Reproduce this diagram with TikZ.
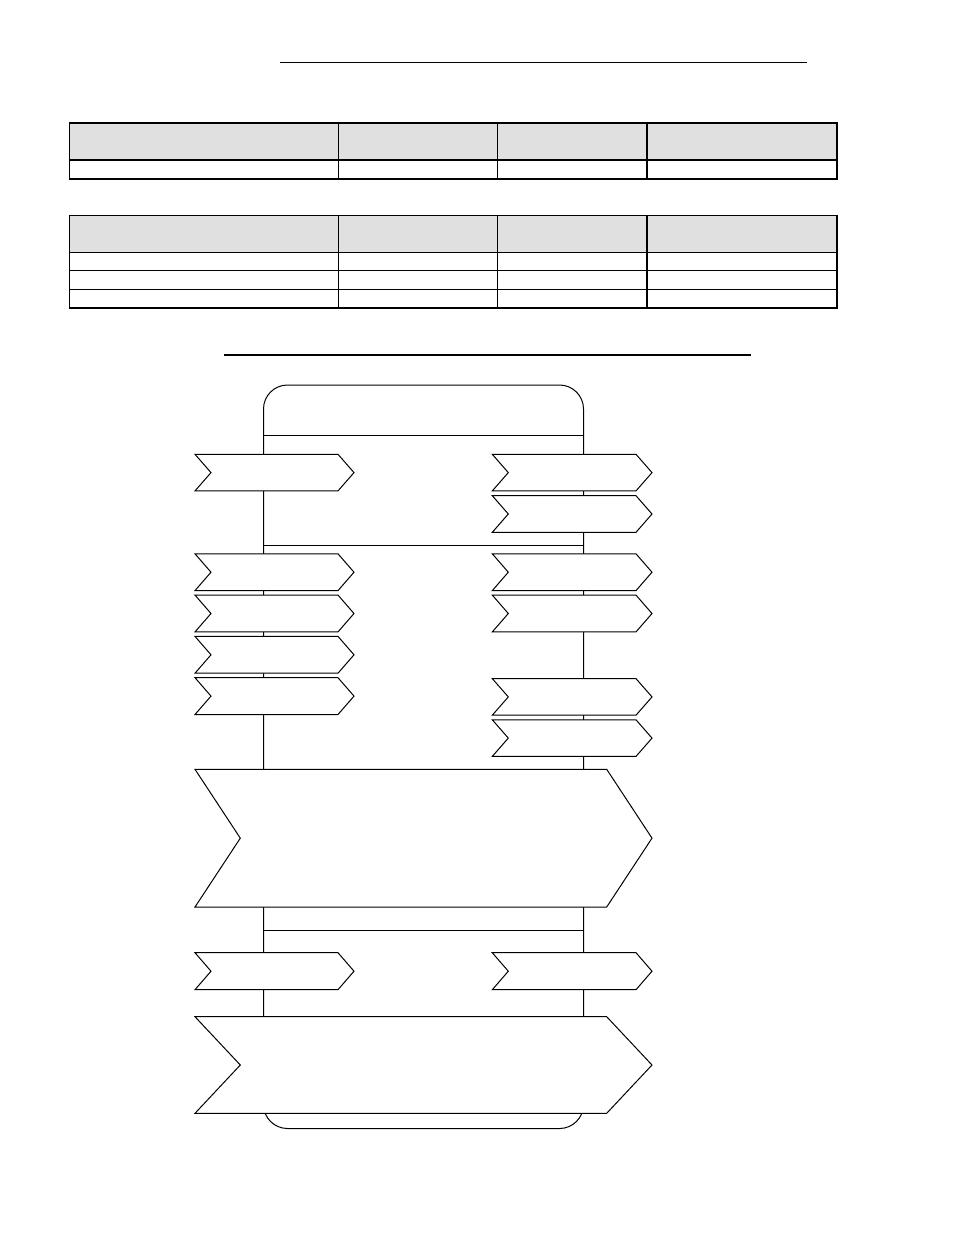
\documentclass[tikz,border=0pt]{standalone}
\usepackage{tikz}
\definecolor{c0}{HTML}{E0E0E0}
\definecolor{c1}{HTML}{000000}

\begin{document}
\begin{tikzpicture}[x=1pt,y=-1pt]

\useasboundingbox (0,0) rectangle (954,1235);

\newcommand{\drawTable}[3]% top, bottom, inner row lines
{   \fill[c0] (69.5,#1) rectangle (837,{#1+37});% Header
	\draw[c1,line width=1.5pt] (69.5,#1) rectangle (837,#2);
	\draw[c1,line width=1.5pt] (69.5,{#1+37}) -- (837,{#1+37});
	\foreach \y in {#3}{
		\draw[c1,line width=1.5pt] (69.5,\y) -- (837,\y);
	}
	\foreach \x in {338.5,497.5,647}{
		\draw[c1,line width=1.5pt] (\x,#1) -- (\x,#2);
	}
}

\newcommand{\drawTag}[5]% left, top, width, height, depth
{   \draw[c1,fill=white,line width=1pt] (#1,#2) -- ++({#3-#5},0) -- ++(#5,{#4/2}) -- ++({-#5},{#4/2}) -- ++({-#3+#5},0) -- ++(#5,{-#4/2}) -- cycle;
}

% Title rules
\draw[c1,line width=1.2pt] (280,62.3) -- (807,62.3);
\draw[c1,line width=1.2pt] (224,355) -- (751,355);

% Tables
\drawTable{123}{179}{}
\drawTable{215.3}{308}{270.5,289.5}

% Frame
\draw[c1,line width=1pt,rounded corners=24pt] (263.5,385) rectangle (583.5,1128.5);
\foreach \y in {435.7,545.7,930}{
	\draw[c1,line width=1pt] (263.5,\y) -- (583.5,\y);
}

% Small tags
\drawTag{195}{454.3}{159}{36.6}{16}
\drawTag{492.3}{454.3}{159.7}{36.6}{16}
\drawTag{492.3}{495.7}{159.7}{36.6}{16}
\foreach \i in {0,1,2,3}{
	\drawTag{195}{553.8+41.3*\i}{159}{36.8}{16}
}
\foreach \i in {0,1}{
	\drawTag{492.3}{553.8+41.3*\i}{159.7}{36.8}{16}
	\drawTag{492.3}{678.6+41.2*\i}{159.7}{36.6}{16}
}
\drawTag{195}{952.7}{159}{37}{16}
\drawTag{492.3}{952.7}{159.7}{37}{16}

% Big tags
\drawTag{195}{769.3}{457}{137.7}{45.3}
\drawTag{195}{1016.7}{457}{96.6}{45.3}

\end{tikzpicture}
\end{document}
